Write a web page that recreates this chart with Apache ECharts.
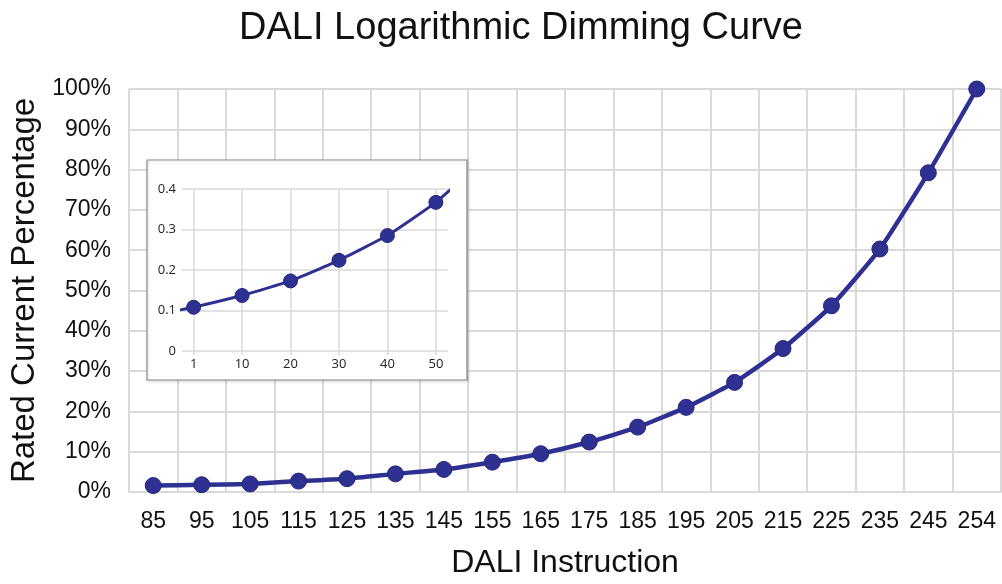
<!DOCTYPE html>
<html>
<head>
<meta charset="utf-8">
<script src="https://cdn.jsdelivr.net/npm/echarts@6/dist/echarts.min.js"></script>
<style>
  html, body { margin: 0; padding: 0; background: #fff; }
  #dimming { width: 1002px; height: 584px; }
</style>
</head>
<body>
<div id="dimming"></div>
<script>
// main curve: DALI instruction -> rated current (%)
const levels = ["85", "95", "105", "115", "125", "135", "145", "155", "165", "175", "185", "195", "205", "215", "225", "235", "245", "254"];
const currentPct = [1.6, 1.8, 2.0, 2.7, 3.3, 4.5, 5.6, 7.4, 9.5, 12.4, 16.1, 21.0, 27.2, 35.6, 46.2, 60.3, 79.2, 100];

// inset: low end of the curve
const insetLevels = ["1", "10", "20", "30", "40", "50"];
const insetPct = [0.108, 0.137, 0.173, 0.224, 0.285, 0.367];
// the inset line runs on past both ends of the box
const insetBefore = 0.084;
const insetAfter = 0.473;

const lineColor = "#2e3192";
const gridColor = "#d9d9d9";

let myChart = echarts.init(document.getElementById("dimming"));

const insetData = [[-1, insetBefore]];
insetPct.forEach((v, i) => insetData.push([i, v]));
insetData.push([insetLevels.length, insetAfter]);

let option = {
  animation: false,
  backgroundColor: "#fff",
  title: {
    text: "DALI Logarithmic Dimming Curve",
    left: 516,
    top: 5,
    textAlign: "center",
    textStyle: {
      fontFamily: "Liberation Sans, Arial, sans-serif",
      fontSize: 38,
      fontWeight: "normal",
      color: "#111",
    },
  },
  graphic: [
    {
      type: "rect",
      z: 10,
      shape: { x: 147, y: 160, width: 320, height: 220 },
      style: {
        fill: "#fff",
        stroke: "#8c8c8c",
        lineWidth: 1.2,
        shadowBlur: 3,
        shadowColor: "rgba(0,0,0,0.15)",
        shadowOffsetX: 1,
        shadowOffsetY: 1,
      },
    },
  ],
  grid: [
    { left: 128, right: 1, top: 89, bottom: 91 },
    { left: 182, right: 554, top: 189, bottom: 233 },
  ],
  xAxis: [
    {
      type: "category",
      data: levels,
      gridIndex: 0,
      boundaryGap: true,
      name: "DALI Instruction",
      nameLocation: "middle",
      nameGap: 55,
      nameTextStyle: {
        fontFamily: "Liberation Sans, Arial, sans-serif",
        fontSize: 32,
        color: "#111",
      },
      axisLine: { lineStyle: { color: gridColor, width: 2 } },
      axisTick: { show: false },
      axisLabel: {
        interval: 0,
        margin: 18,
        fontFamily: "Liberation Sans, Arial, sans-serif",
        fontSize: 23,
        color: "#111",
      },
      splitLine: { show: true, lineStyle: { color: gridColor, width: 2 } },
    },
    {
      type: "value",
      gridIndex: 1,
      min: -0.24,
      max: 5.25,
      z: 11,
      axisLine: { show: false },
      axisTick: {
        show: true,
        length: 4,
        customValues: [0, 1, 2, 3, 4, 5],
        lineStyle: { color: gridColor, width: 1.5 },
      },
      axisLabel: {
        customValues: [0, 1, 2, 3, 4, 5],
        margin: 7,
        fontFamily: "Open Sans, Noto Sans, sans-serif",
        fontSize: 13,
        color: "#222",
        formatter: (v) => insetLevels[Math.round(v)],
      },
      splitLine: { show: true, lineStyle: { color: gridColor, width: 1.5 } },
    },
  ],
  yAxis: [
    {
      type: "value",
      gridIndex: 0,
      min: 0,
      max: 100,
      interval: 10,
      name: "Rated Current Percentage",
      nameLocation: "middle",
      nameGap: 88,
      nameTextStyle: {
        fontFamily: "Liberation Sans, Arial, sans-serif",
        fontSize: 33,
        color: "#111",
      },
      axisLine: { show: false },
      axisTick: { show: false },
      axisLabel: {
        margin: 18,
        fontFamily: "Liberation Sans, Arial, sans-serif",
        fontSize: 23,
        color: "#111",
        formatter: "{value}%",
      },
      splitLine: { lineStyle: { color: gridColor, width: 2 } },
    },
    {
      type: "value",
      gridIndex: 1,
      min: 0,
      max: 0.4,
      interval: 0.1,
      z: 11,
      axisLine: { show: false },
      axisTick: { show: false },
      axisLabel: {
        margin: 6,
        fontFamily: "Open Sans, Noto Sans, sans-serif",
        fontSize: 13,
        color: "#222",
      },
      splitLine: { lineStyle: { color: gridColor, width: 1.5 } },
    },
  ],
  series: [
    {
      type: "line",
      xAxisIndex: 0,
      yAxisIndex: 0,
      data: currentPct,
      smooth: 0.15,
      symbol: "circle",
      symbolSize: 16,
      lineStyle: { color: lineColor, width: 4.5 },
      itemStyle: { color: lineColor, borderColor: "#24287a", borderWidth: 1 },
    },
    {
      type: "line",
      xAxisIndex: 1,
      yAxisIndex: 1,
      z: 12,
      data: insetData,
      clip: true,
      smooth: 0.1,
      symbol: "circle",
      symbolSize: 14,
      lineStyle: { color: lineColor, width: 3 },
      itemStyle: { color: lineColor, borderColor: "#24287a", borderWidth: 1 },
    },
  ],
};
myChart.setOption(option);
</script>
</body>
</html>
